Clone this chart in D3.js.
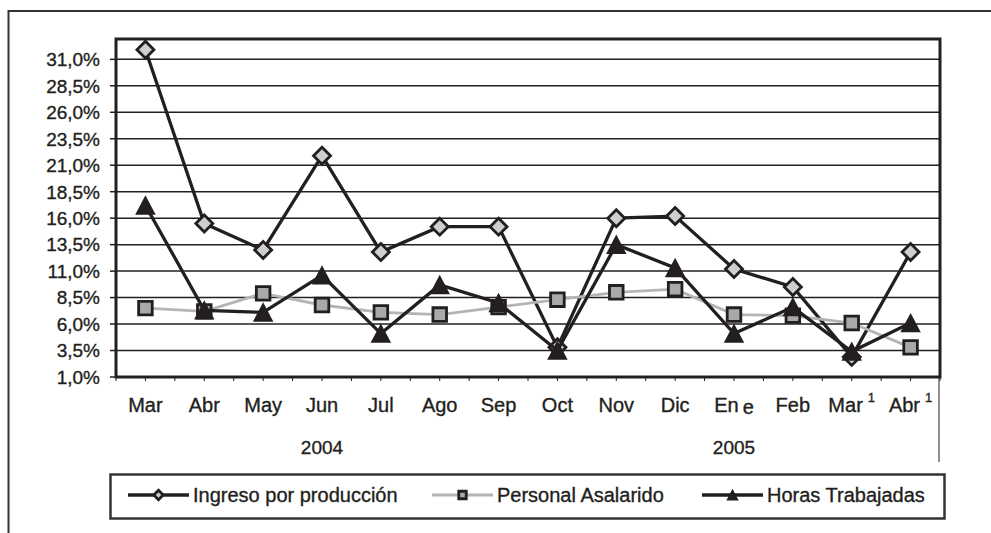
<!DOCTYPE html>
<html>
<head>
<meta charset="utf-8">
<script src="https://cdn.jsdelivr.net/npm/d3@7"></script>
<style>
  body { margin: 0; background: #fff; }
  svg { display: block; font-family: "Liberation Sans", Arial, sans-serif; }
  text { stroke: #231f20; stroke-width: 0.35px; }
</style>
</head>
<body>
<script>
// chart size and plot box
var W = 991;
var H = 533;
var PlotLeft = 116;
var PlotRight = 940;
var PlotTop = 39;
var PlotBottom = 377;
var Ink = "#231f20";

// data
var months = ["Mar", "Abr", "May", "Jun", "Jul", "Ago", "Sep", "Oct", "Nov", "Dic", "Ene", "Feb", "Mar", "Abr"];
var supers = ["", "", "", "", "", "", "", "", "", "", "", "", "1", "1"];
var years = [{ label: "2004", from: 0, to: 6 }, { label: "2005", from: 7, to: 13 }];
var ingreso = [31.9, 15.5, 13.0, 21.9, 12.8, 15.2, 15.2, 3.8, 16.0, 16.2, 11.2, 9.5, 2.9, 12.8];
var personal = [7.5, 7.2, 8.9, 7.8, 7.1, 6.9, 7.6, 8.3, 9.0, 9.3, 6.9, 6.8, 6.1, 3.8];
var horas = [17.2, 7.3, 7.1, 10.6, 5.1, 9.7, 8.0, 3.5, 13.5, 11.3, 5.1, 7.6, 3.4, 6.1];
var yTicks = [1, 3.5, 6, 8.5, 11, 13.5, 16, 18.5, 21, 23.5, 26, 28.5, 31];
var seriesNames = ["Ingreso por producción", "Personal Asalarido", "Horas Trabajadas"];

function main() {
  var svg = d3.select("body").append("svg")
    .attr("width", W)
    .attr("height", H);

  // outer frame, cut off at right and bottom
  svg.append("path")
    .attr("d", "M8.5," + H + "V11H" + W)
    .attr("fill", "none")
    .attr("stroke", "#333")
    .attr("stroke-width", 2);

  var x = d3.scaleBand()
    .domain(d3.range(months.length))
    .range([PlotLeft, PlotRight])
    .padding(0);
  var y = d3.scaleLinear()
    .domain([1, 32.92])
    .range([PlotBottom, PlotTop]);
  var cx = function(i) { return x(i) + x.bandwidth() / 2; };

  // gridlines
  svg.selectAll("line.grid")
    .data(yTicks.slice(1))
    .enter()
    .append("line")
    .attr("class", "grid")
    .attr("x1", PlotLeft)
    .attr("x2", PlotRight)
    .attr("y1", function(d) { return y(d); })
    .attr("y2", function(d) { return y(d); })
    .attr("stroke", Ink)
    .attr("stroke-width", 1.5);

  // y axis labels and ticks
  var fmt = function(d) { return d3.format(".1f")(d).replace(".", ",") + "%"; };
  svg.selectAll("line.ytick")
    .data(yTicks)
    .enter()
    .append("line")
    .attr("x1", PlotLeft - 6)
    .attr("x2", PlotLeft)
    .attr("y1", function(d) { return y(d); })
    .attr("y2", function(d) { return y(d); })
    .attr("stroke", Ink)
    .attr("stroke-width", 1.5);
  svg.selectAll("text.ylab")
    .data(yTicks)
    .enter()
    .append("text")
    .attr("x", 100)
    .attr("y", function(d) { return y(d); })
    .attr("dy", "0.36em")
    .attr("text-anchor", "end")
    .attr("font-size", "19px")
    .attr("fill", Ink)
    .text(fmt);

  // x ticks every half category
  svg.selectAll("line.xtick")
    .data(d3.range(months.length * 2 + 1))
    .enter()
    .append("line")
    .attr("x1", function(d) { return PlotLeft + d * x.bandwidth() / 2; })
    .attr("x2", function(d) { return PlotLeft + d * x.bandwidth() / 2; })
    .attr("y1", PlotBottom)
    .attr("y2", PlotBottom + 4)
    .attr("stroke", Ink)
    .attr("stroke-width", 1);

  // month labels
  var mlab = svg.selectAll("text.month")
    .data(months)
    .enter()
    .append("text")
    .attr("x", function(d, i) { return cx(i); })
    .attr("y", 412)
    .attr("text-anchor", "middle")
    .attr("font-size", "20px")
    .attr("fill", Ink);
  mlab.each(function(d, i) {
    var t = d3.select(this);
    if (d == "Ene") {
      // the source prints it as "En e" with a dropped e
      t.append("tspan").text("En");
      t.append("tspan").attr("dx", 4).attr("dy", 2).text("e");
    } else {
      t.append("tspan").text(d);
    }
    if (supers[i]) {
      t.append("tspan")
        .attr("dx", 5)
        .attr("dy", -10)
        .attr("font-size", "13px")
        .text(supers[i]);
    }
  });

  // year labels
  svg.selectAll("text.year")
    .data(years)
    .enter()
    .append("text")
    .attr("x", function(d) { return (cx(d.from) + cx(d.to)) / 2; })
    .attr("y", 454)
    .attr("text-anchor", "middle")
    .attr("font-size", "19px")
    .attr("fill", Ink)
    .text(function(d) { return d.label; });

  // separator right of the axis labels
  svg.append("line")
    .attr("x1", PlotRight - 1)
    .attr("x2", PlotRight - 1)
    .attr("y1", PlotBottom)
    .attr("y2", 462)
    .attr("stroke", Ink)
    .attr("stroke-width", 1);

  // plot box
  svg.append("rect")
    .attr("x", PlotLeft)
    .attr("y", PlotTop)
    .attr("width", PlotRight - PlotLeft)
    .attr("height", PlotBottom - PlotTop)
    .attr("fill", "none")
    .attr("stroke", Ink)
    .attr("stroke-width", 3);

  var line = d3.line()
    .x(function(d, i) { return cx(i); })
    .y(function(d) { return y(d); });

  var styles = [
    { data: ingreso, color: Ink, width: 3.3, marker: "diamond" },
    { data: personal, color: "#b4b4b4", width: 2.8, marker: "square" },
    { data: horas, color: Ink, width: 3.3, marker: "triangle" }
  ];

  styles.forEach(function(s) {
    svg.append("path")
      .attr("d", line(s.data))
      .attr("fill", "none")
      .attr("stroke", s.color)
      .attr("stroke-width", s.width)
      .attr("stroke-linejoin", "miter");
    svg.selectAll(null)
      .data(s.data)
      .enter()
      .append("path")
      .attr("transform", function(d, i) { return "translate(" + cx(i) + "," + y(d) + ")"; })
      .each(function() { drawMarker(d3.select(this), s.marker, 1); });
  });

  // legend
  svg.append("rect")
    .attr("x", 110.5)
    .attr("y", 474.5)
    .attr("width", 834)
    .attr("height", 44)
    .attr("fill", "none")
    .attr("stroke", "#333")
    .attr("stroke-width", 2.5);

  var legendX = [128, 432, 702];
  var legendY = 495;
  styles.forEach(function(s, i) {
    var g = svg.append("g").attr("transform", "translate(" + legendX[i] + "," + legendY + ")");
    g.append("line")
      .attr("x1", 0)
      .attr("x2", 61)
      .attr("stroke", s.color)
      .attr("stroke-width", s.width);
    var m = g.append("path").attr("transform", "translate(30.5,0)");
    drawMarker(m, s.marker, 0.55);
    g.append("text")
      .attr("x", 65)
      .attr("y", 0)
      .attr("dy", "0.35em")
      .attr("font-size", "20px")
      .attr("fill", Ink)
      .text(seriesNames[i]);
  });
}

function drawMarker(sel, kind, k) {
  if (kind == "diamond") {
    var r = 8.5 * k;
    sel.attr("d", "M0," + (-r) + "L" + r + ",0L0," + r + "L" + (-r) + ",0Z")
      .attr("fill", "#cfcfcf")
      .attr("stroke", Ink)
      .attr("stroke-width", 2.8);
  } else if (kind == "square") {
    var h = 6.8 * k;
    sel.attr("d", "M" + (-h) + "," + (-h) + "H" + h + "V" + h + "H" + (-h) + "Z")
      .attr("fill", "#a9a9a9")
      .attr("stroke", Ink)
      .attr("stroke-width", 2.8);
  } else {
    var w = 9 * k;
    var t = 8.5 * k;
    sel.attr("d", "M0," + (-t) + "L" + w + "," + t + "L" + (-w) + "," + t + "Z")
      .attr("fill", Ink)
      .attr("stroke", Ink)
      .attr("stroke-width", 1.5);
  }
}

main();
</script>
</body>
</html>
